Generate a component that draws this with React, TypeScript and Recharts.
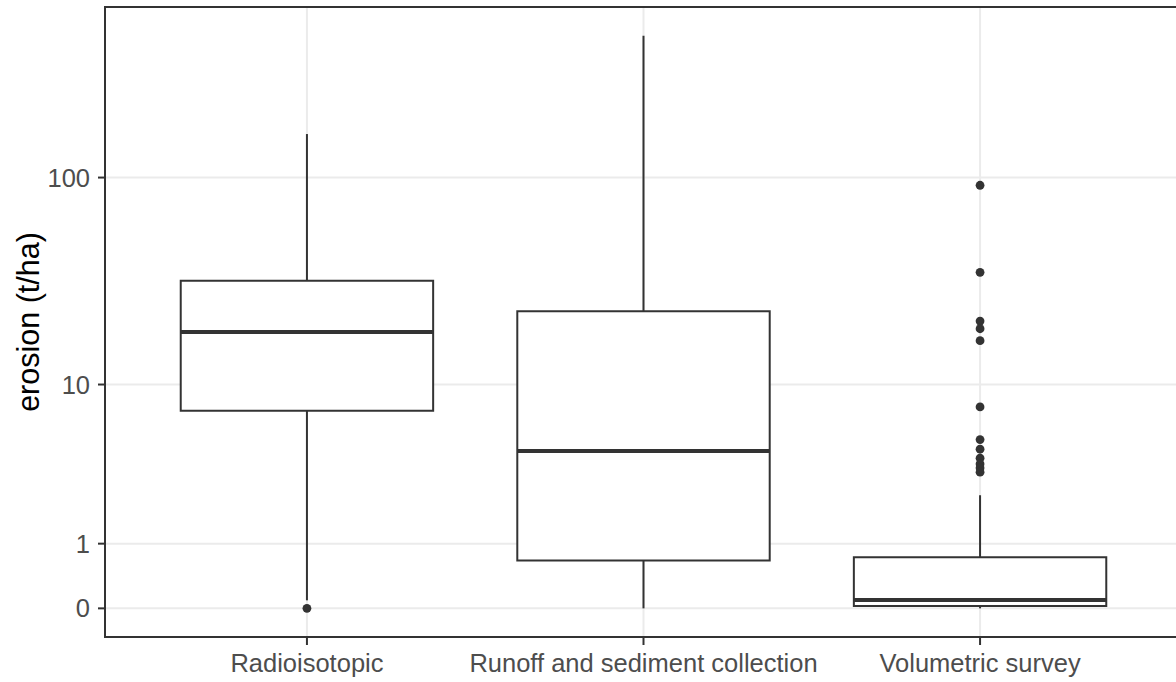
import React from "react"
import {
  ComposedChart,
  XAxis,
  YAxis,
  CartesianGrid,
  ReferenceArea,
  ReferenceLine,
  Scatter,
} from "recharts"

// box statistics (t/ha)
const categories = ["Radioisotopic", "Runoff and sediment collection", "Volumetric survey"]
const whiskerLow = [0.09, 0, 0]
const q1 = [7.3, 0.67, 0.026]
const median = [18.3, 4.4, 0.094]
const q3 = [32.4, 23.1, 0.73]
const whiskerHigh = [160, 461, 2.36]
const outliers = [
  [0],
  [],
  [92, 35.6, 20.7, 19.0, 16.6, 7.65, 5.1, 4.5, 4.0, 3.7, 3.5, 3.3],
]
const yTicks = [0, 1, 10, 100]

// log10(x + 1) axis transform
const tr = (v: number) => Math.log10(v + 1)
const untr = (t: number) => Math.round(Math.pow(10, t) - 1)

const INK = "#333333"
const HALF = 0.375
const FONT = "'Liberation Sans', Arial, sans-serif"

const dataMax = tr(Math.max(...whiskerHigh))
const yDomain = [-0.05 * dataMax, dataMax * 1.05]

const outlierPoints = outliers.flatMap((vals, i) => vals.map((v) => ({ x: i + 1, y: tr(v) })))

function YTitle(props: any) {
  const vb = props.viewBox || { x: 0, y: 0, height: 0 }
  const cx = 28
  const cy = vb.y + vb.height / 2
  return (
    <text
      x={cx}
      y={cy}
      transform={`rotate(-90 ${cx} ${cy})`}
      textAnchor="middle"
      dominantBaseline="central"
      fontFamily={FONT}
      fontSize={30.5}
      fill="#000000"
    >
      erosion (t/ha)
    </text>
  )
}

export default function App() {
  return (
    <div style={{ position: "absolute", left: 0, top: 0, width: 1176, height: 682, overflow: "hidden", background: "#fff" }}>
      <ComposedChart width={1182} height={682} margin={{ top: 7, right: 0, bottom: 0, left: 0 }}>
        <CartesianGrid stroke="#EBEBEB" strokeWidth={2} />
        <XAxis
          type="number"
          dataKey="x"
          domain={[0.4, 3.6]}
          ticks={[1, 2, 3]}
          tickFormatter={(v: number) => categories[v - 1]}
          height={45}
          axisLine={false}
          tickSize={8}
          tickMargin={9}
          tickLine={{ stroke: INK, strokeWidth: 2 }}
          tick={{ fill: "#4D4D4D", fontSize: 25.5, fontFamily: FONT }}
          allowDataOverflow
        />
        <YAxis
          type="number"
          dataKey="y"
          domain={yDomain}
          ticks={yTicks.map(tr)}
          tickFormatter={(t: number) => String(untr(t))}
          width={105}
          axisLine={false}
          tickSize={7}
          tickMargin={8}
          tickLine={{ stroke: INK, strokeWidth: 2 }}
          tick={{ fill: "#4D4D4D", fontSize: 25.5, fontFamily: FONT }}
          label={<YTitle />}
          allowDataOverflow
        />
        {categories.map((c, i) => (
          <ReferenceLine
            key={`wl-${c}`}
            segment={[
              { x: i + 1, y: tr(whiskerLow[i]) },
              { x: i + 1, y: tr(q1[i]) },
            ]}
            stroke={INK}
            strokeWidth={2}
          />
        ))}
        {categories.map((c, i) => (
          <ReferenceLine
            key={`wh-${c}`}
            segment={[
              { x: i + 1, y: tr(q3[i]) },
              { x: i + 1, y: tr(whiskerHigh[i]) },
            ]}
            stroke={INK}
            strokeWidth={2}
          />
        ))}
        {categories.map((c, i) => (
          <ReferenceArea
            key={`box-${c}`}
            x1={i + 1 - HALF}
            x2={i + 1 + HALF}
            y1={tr(q1[i])}
            y2={tr(q3[i])}
            fill="#ffffff"
            fillOpacity={1}
            stroke={INK}
            strokeWidth={2}
          />
        ))}
        {categories.map((c, i) => (
          <ReferenceLine
            key={`med-${c}`}
            segment={[
              { x: i + 1 - HALF, y: tr(median[i]) },
              { x: i + 1 + HALF, y: tr(median[i]) },
            ]}
            stroke={INK}
            strokeWidth={4}
          />
        ))}
        <Scatter
          data={outlierPoints}
          isAnimationActive={false}
          shape={(p: any) => <circle cx={p.cx} cy={p.cy} r={4.4} fill={INK} />}
        />
        {/* panel border */}
        <ReferenceArea
          x1={0.4}
          x2={3.6}
          y1={yDomain[0]}
          y2={yDomain[1]}
          fill="none"
          stroke={INK}
          strokeWidth={2}
          ifOverflow="visible"
        />
      </ComposedChart>
    </div>
  )
}
